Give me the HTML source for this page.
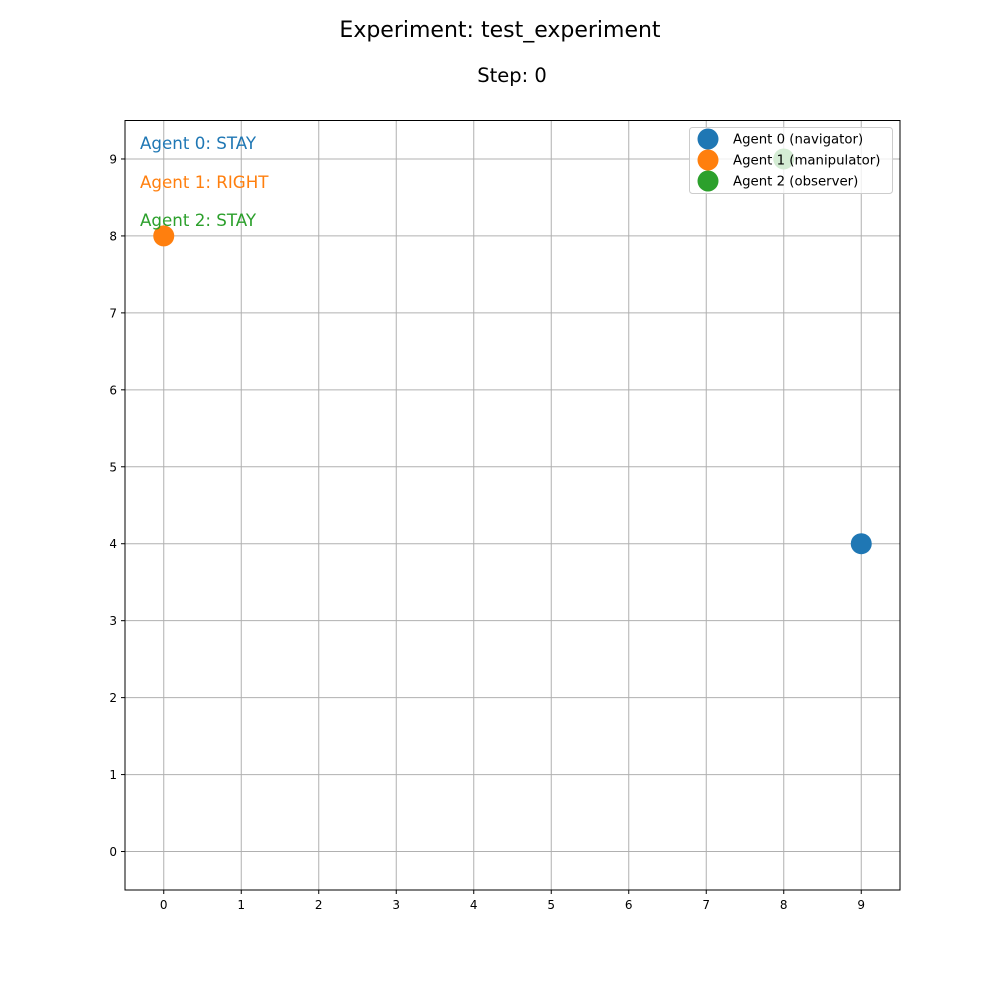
<!DOCTYPE html>
<html><head><meta charset="utf-8"><style>
body{margin:0;background:#fff;}
svg{display:block;font-family:"DejaVu Sans","Liberation Sans",sans-serif;}
</style></head><body>
<svg id="chart" width="1000" height="1000" xmlns="http://www.w3.org/2000/svg">
<rect width="1000" height="1000" fill="#fff"/>
<text x="500" y="37" font-size="22" text-anchor="middle">Experiment: test_experiment</text>
<text x="512" y="82" font-size="19.5" text-anchor="middle">Step: 0</text>
<g id="grid"></g>
<g id="ticks"></g>
<g id="points"></g>
<rect x="125" y="120.5" width="775" height="769.5" fill="none" stroke="#000" stroke-width="1"/>
<g>
<text x="140" y="149" font-size="16.7" fill="#1f77b4">Agent 0: STAY</text>
<text x="140" y="188" font-size="16.7" fill="#ff7f0e">Agent 1: RIGHT</text>
<text x="140" y="226" font-size="16.7" fill="#2ca02c">Agent 2: STAY</text>
</g>
<g id="legend">
<rect x="689.5" y="127.5" width="203" height="66" rx="3" fill="#fff" fill-opacity="0.8" stroke="#ccc"/>
</g>
</svg>
<script>
const xTicks=[0,1,2,3,4,5,6,7,8,9];
const yTicks=[0,1,2,3,4,5,6,7,8,9];
const agentNames=["Agent 0 (navigator)","Agent 1 (manipulator)","Agent 2 (observer)"];
const agentX=[9,0,8];
const agentY=[4,8,9];
const colors=["#1f77b4","#ff7f0e","#2ca02c"];
const NS="http://www.w3.org/2000/svg";
const L=125,R=900,T=120.5,B=890;
const xs=v=>L+(v+0.5)/10*(R-L);
const ys=v=>B-(v+0.5)/10*(B-T);
function mk(tag,attrs,parent){const e=document.createElementNS(NS,tag);for(const k in attrs)e.setAttribute(k,attrs[k]);parent.appendChild(e);return e;}
const grid=document.getElementById('grid'),ticks=document.getElementById('ticks'),pts=document.getElementById('points'),leg=document.getElementById('legend');
xTicks.forEach(v=>{const x=xs(v);
let g=mk('line',{x1:x,x2:x,y1:T,y2:B,stroke:'#b0b0b0','stroke-width':1},grid);


let t=mk('line',{x1:x,x2:x,y1:B,y2:B+4,stroke:'#000'},ticks);


let l=mk('text',{x:x,y:B+19,'font-size':12,'text-anchor':'middle'},ticks);l.textContent=v;

});
yTicks.forEach(v=>{const y=ys(v);
let g=mk('line',{x1:L,x2:R,y1:y,y2:y,stroke:'#b0b0b0','stroke-width':1},grid);


let t=mk('line',{x1:L-4,x2:L,y1:y,y2:y,stroke:'#000'},ticks);


let l=mk('text',{x:L-8,y:y+4.5,'font-size':12,'text-anchor':'end'},ticks);l.textContent=v;

});
agentX.forEach((v,i)=>{
let c=mk('circle',{cx:xs(v),cy:ys(agentY[i]),r:10.5,fill:colors[i]},pts);

});
agentNames.forEach((n,i)=>{const y=139+i*21;
let c=mk('circle',{cx:708,cy:y,r:10.5,fill:colors[i]},leg);


let t=mk('text',{x:733,y:y+4.5,'font-size':13.3},leg);t.textContent=n;

});
</script>
</body></html>
